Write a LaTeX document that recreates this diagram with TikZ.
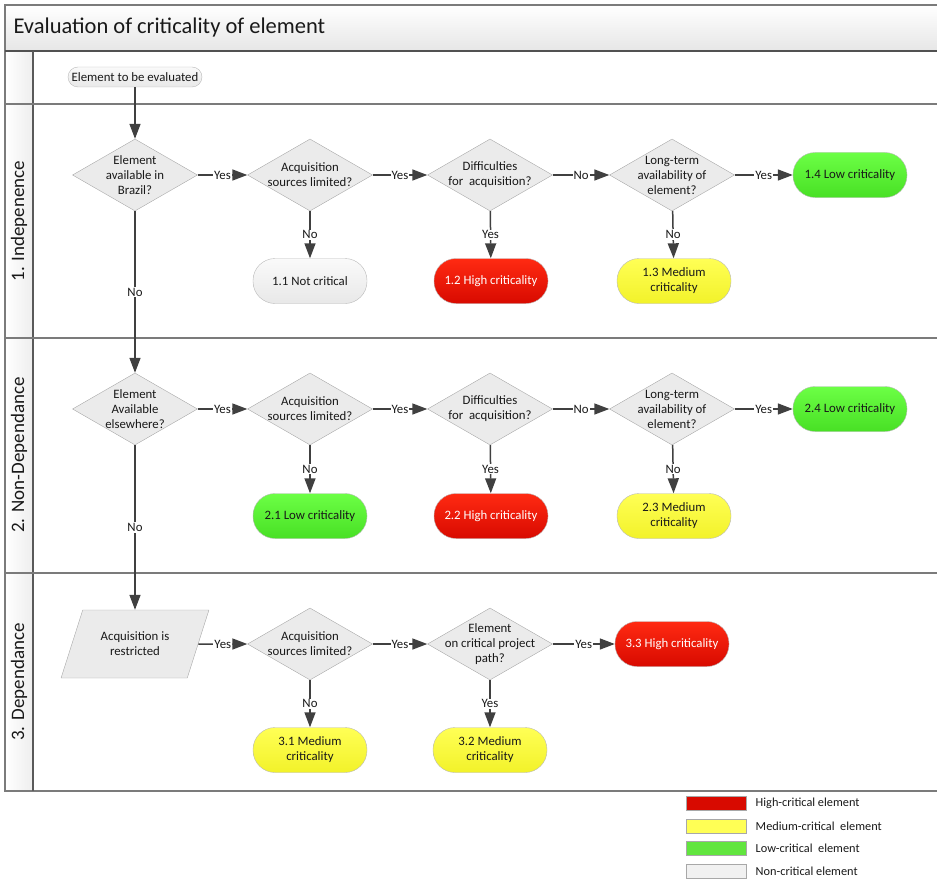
\documentclass[tikz,border=0pt]{standalone}
\usepackage{fontspec}
\setmainfont{Carlito}
\usetikzlibrary{shapes.geometric,arrows.meta,positioning}

\definecolor{lineclr}{HTML}{404040}
\definecolor{frameclr}{HTML}{5A5A5A}
\definecolor{boxedge}{HTML}{A8A8A8}
\definecolor{decfill}{HTML}{EBEBEB}
\definecolor{bandgrey}{HTML}{E6E6E6}
\definecolor{redtop}{HTML}{FF2A12}
\definecolor{redbot}{HTML}{D80A00}
\definecolor{yeltop}{HTML}{FFFF55}
\definecolor{yelbot}{HTML}{F2F22A}
\definecolor{grntop}{HTML}{6CFF45}
\definecolor{grnbot}{HTML}{48E025}
\definecolor{greytop}{HTML}{FAFAFA}
\definecolor{greybot}{HTML}{E8E8E8}

\begin{document}
\begin{tikzpicture}[x=1pt,y=-1pt,
    every node/.style={font=\fontsize{12.8}{15}\selectfont,text=black!90},
    frame/.style={draw=frameclr,line width=1.4pt},
    decision/.style={diamond,draw=boxedge,fill=decfill,minimum width=125pt,
        minimum height=72pt,inner sep=-20pt,align=center},
    ending/.style={rectangle,rounded corners=22pt,draw=boxedge!80,
        minimum width=114pt,minimum height=45pt,align=center},
    high/.style={ending,top color=redtop,bottom color=redbot,text=white},
    medium/.style={ending,top color=yeltop,bottom color=yelbot},
    low/.style={ending,top color=grntop,bottom color=grnbot},
    none/.style={ending,top color=greytop,bottom color=greybot},
    flow/.style={draw=lineclr,line width=1.5pt,-{Triangle[length=15pt,width=11pt]}},
    lbl/.style={fill=white,inner sep=1pt},
    lane/.style={rotate=90,font=\fontsize{19}{22}\selectfont},
    keybox/.style={rectangle,draw=boxedge,minimum width=60pt,minimum height=14pt},
    keytext/.style={font=\fontsize{12.3}{14}\selectfont,anchor=west}]

\useasboundingbox (0,0) rectangle (937,880);

% frame and swimlanes
\fill[top color=white,bottom color=bandgrey] (5,5) rectangle (937,51);
\fill[left color=white,right color=bandgrey!70] (5,51) rectangle (33,791);
\draw[frame,draw=frameclr!80] (937,5) -- (5,5) -- (5,791) -- (937,791);
\draw[frame,line width=2pt,draw=frameclr!90!black] (5,51) -- (937,51);
\draw[frame] (33,51) -- (33,791);
\foreach \y in {104,338,573}
    \draw[frame,draw=frameclr!80] (5,\y) -- (937,\y);

\node[anchor=west,font=\fontsize{22.5}{26}\selectfont] (title) at (10,28)
    {Evaluation of criticality of element};
\node[lane] (lane1) at (19,221) {1. Indepenence};
\node[lane] (lane2) at (19,455) {2. Non-Dependance};
\node[lane] (lane3) at (19,682) {3. Dependance};

% start
\node[none,rounded corners=10pt,minimum width=134pt,minimum height=20pt,
    inner sep=1pt] (start) at (135,77)
    {Element to be evaluated};

% lane 1
\node[decision] (d11) at (135,175) {Element\\available in\\Brazil?};
\node[decision] (d12) at (310,175) {Acquisition\\sources limited?};
\node[decision] (d13) at (490,175) {Difficulties\\for\ \ acquisition?};
\node[decision] (d14) at (672,175) {Long-term\\availability of\\element?};
\node[low] (t14) at (850,175) {1.4 Low criticality};
\node[none] (t11) at (310,281) {1.1 Not critical};
\node[high] (t12) at (491,281) {1.2 High criticality};
\node[medium] (t13) at (674,281) {1.3 Medium\\criticality};

% lane 2
\node[decision] (d21) at (135,409) {Element\\Available\\elsewhere?};
\node[decision] (d22) at (310,409) {Acquisition\\sources limited?};
\node[decision] (d23) at (490,409) {Difficulties\\for\ \ acquisition?};
\node[decision] (d24) at (672,409) {Long-term\\availability of\\element?};
\node[low] (t24) at (850,409) {2.4 Low criticality};
\node[low] (t21) at (310,516) {2.1 Low criticality};
\node[high] (t22) at (491,516) {2.2 High criticality};
\node[medium] (t23) at (674,516) {2.3 Medium\\criticality};

% lane 3
\node[trapezium,trapezium left angle=63,trapezium right angle=117,
    trapezium stretches=true,draw=boxedge,fill=decfill,
    minimum width=148pt,minimum height=68pt,align=center] (p31) at (135,644)
    {Acquisition is\\restricted};
\node[decision] (d32) at (310,644) {Acquisition\\sources limited?};
\node[decision] (d33) at (490,644) {Element\\on critical project\\path?};
\node[high] (t33) at (672,644) {3.3 High criticality};
\node[medium] (t31) at (310,750) {3.1 Medium\\criticality};
\node[medium] (t32) at (490,750) {3.2 Medium\\criticality};

% connectors
\draw[flow] (start) -- (d11);
\draw[flow] (d11) -- node[lbl]{Yes} (d12);
\draw[flow] (d12) -- node[lbl]{Yes} (d13);
\draw[flow] (d13) -- node[lbl]{No} (d14);
\draw[flow] (d14) -- node[lbl]{Yes} (t14);
\draw[flow] (d12) -- node[lbl]{No} (t11);
\draw[flow] (d13) -- node[lbl]{Yes} (t12);
\draw[flow] (d14) -- node[lbl]{No} (t13);
\draw[flow] (d11) -- node[lbl]{No} (d21);

\draw[flow] (d21) -- node[lbl]{Yes} (d22);
\draw[flow] (d22) -- node[lbl]{Yes} (d23);
\draw[flow] (d23) -- node[lbl]{No} (d24);
\draw[flow] (d24) -- node[lbl]{Yes} (t24);
\draw[flow] (d22) -- node[lbl]{No} (t21);
\draw[flow] (d23) -- node[lbl]{Yes} (t22);
\draw[flow] (d24) -- node[lbl]{No} (t23);
\draw[flow] (d21) -- node[lbl]{No} (p31);

\draw[flow] (p31) -- node[lbl]{Yes} (d32);
\draw[flow] (d32) -- node[lbl]{Yes} (d33);
\draw[flow] (d33) -- node[lbl]{Yes} (t33);
\draw[flow] (d32) -- node[lbl]{No} (t31);
\draw[flow] (d33) -- node[lbl]{Yes} (t32);

% key
\node[keybox,fill=redbot] (keyhigh) at (716,803) {};
\node[keybox,fill=yeltop] (keymed) at (716,826) {};
\node[keybox,fill=grntop!90!black] (keylow) at (716,848) {};
\node[keybox,fill=greybot!60] (keynone) at (716,871) {};
\node[keytext,right=6pt of keyhigh] (khtext) {High-critical element};
\node[keytext,right=6pt of keymed] (kmtext) {Medium-critical\ \ element};
\node[keytext,right=6pt of keylow] (kltext) {Low-critical\ \ element};
\node[keytext,right=6pt of keynone] (kntext) {Non-critical element};
\end{tikzpicture}
\end{document}
